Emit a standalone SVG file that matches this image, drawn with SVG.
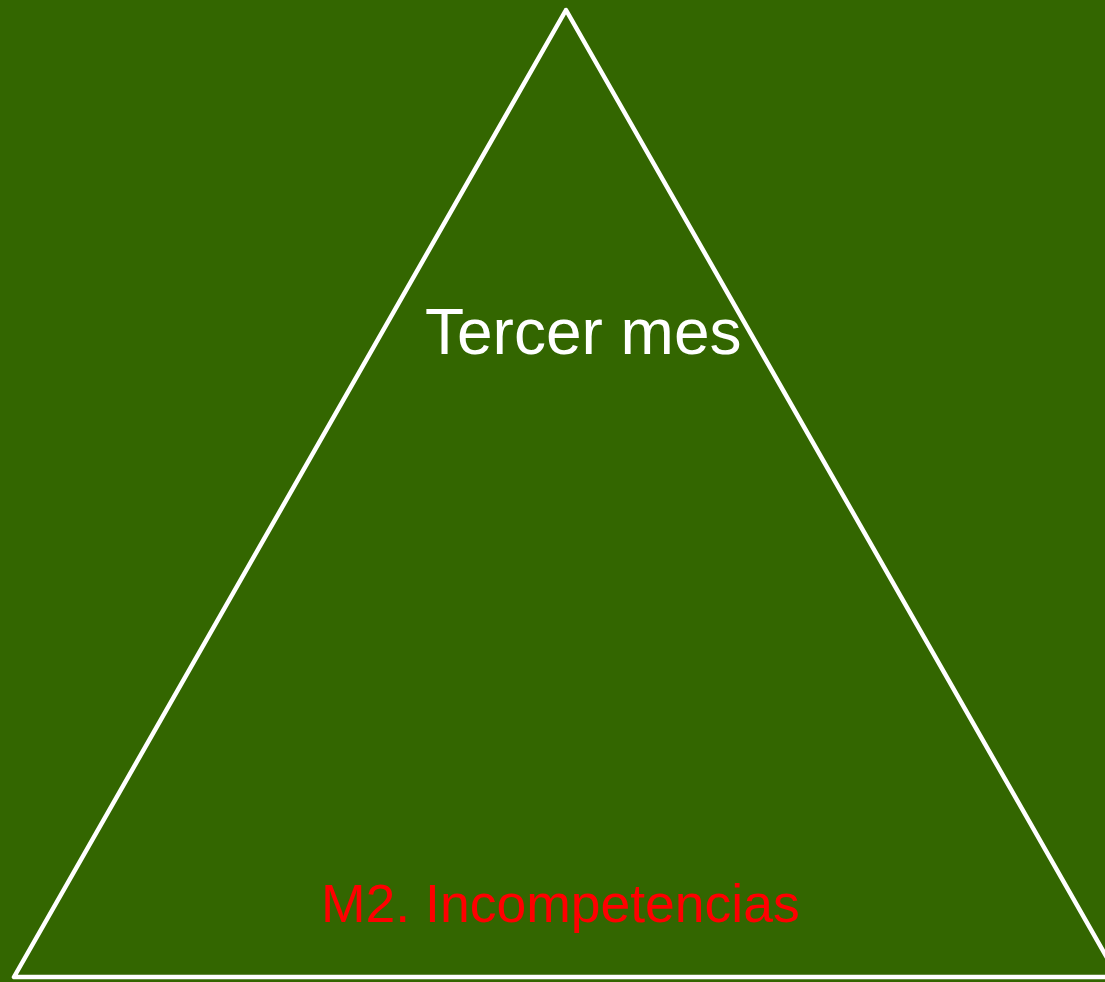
<svg xmlns="http://www.w3.org/2000/svg" width="1105" height="982" viewBox="0 0 1105 982">
<style>
.lbl{font-family:"Liberation Sans",Arial,sans-serif}
</style>
<rect x="0" y="0" width="1105" height="982" fill="#336600"/>
<g id="triangle">
<polygon points="566,10 14,977 1118,977" fill="none" stroke="#ffffff" stroke-width="4.5" stroke-linejoin="round"/>
</g>
<g id="connectors"></g>
<g id="labels">
<text class="lbl" x="425" y="354" font-size="64" fill="#ffffff">Tercer mes</text>
<text class="lbl" x="321" y="922" font-size="53.5" fill="#ff0000">M2. Incompetencias</text>
</g>
</svg>
